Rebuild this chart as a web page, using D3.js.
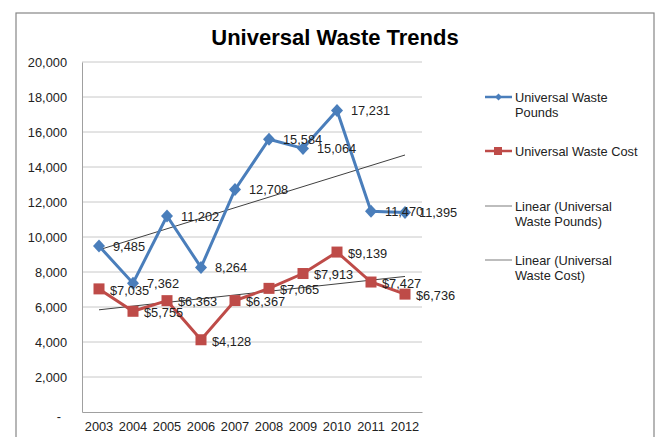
<!DOCTYPE html>
<html><head><meta charset="utf-8">
<script src="https://cdn.jsdelivr.net/npm/d3@7"></script>
<style>
html,body{margin:0;padding:0;background:#fff;}
svg text{font-family:"Liberation Sans",Arial,sans-serif;}
</style></head>
<body><svg id="c" width="657" height="437"></svg>
<script>
const years = ["2003","2004","2005","2006","2007","2008","2009","2010","2011","2012"];
const pounds = [9485,7362,11202,8264,12708,15584,15064,17231,11470,11395];
const cost = [7035,5755,6363,4128,6367,7065,7913,9139,7427,6736];
const yTicks = [0,2000,4000,6000,8000,10000,12000,14000,16000,18000,20000];
const legendItems = ["Universal Waste|Pounds","Universal Waste Cost","Linear (Universal|Waste Pounds)","Linear (Universal|Waste Cost)"];
const title = "Universal Waste Trends";

const svg = d3.select("#c");
const blue = "#4A7EBB", red = "#BE4B48", trendC = "#404040";
const L = 82, R = 422, T = 62, B = 412;
const FS = 12.8;

svg.append("rect").attr("x",16).attr("y",13).attr("width",638).attr("height",440)
  .attr("fill","#fff").attr("stroke","#868686").attr("stroke-width",1.2);

svg.append("text").attr("x",335).attr("y",45).attr("text-anchor","middle")
  .attr("font-size",22).attr("font-weight","bold").attr("fill","#000").text(title);

const x = d3.scaleBand().domain(years).range([L,R]);
const y = d3.scaleLinear().domain([0,20000]).range([B,T]);
const cx = d => x(d)+x.bandwidth()/2;

// gridlines
svg.append("g").selectAll("line").data(yTicks.filter(v=>v>0)).join("line")
  .attr("x1",L).attr("x2",R).attr("y1",d=>y(d)).attr("y2",d=>y(d))
  .attr("stroke","#C8C8C8").attr("stroke-width",1);

// y axis
const ya = svg.append("g").attr("transform",`translate(${L},0)`)
  .call(d3.axisLeft(y).tickValues(yTicks).tickSize(0).tickPadding(15)
    .tickFormat(d => d===0 ? "-" : d3.format(",")(d)));
ya.select(".domain").attr("stroke","#A0A0A0");
ya.selectAll("text").attr("font-size",FS).attr("fill","#222")
  .attr("font-family","Liberation Sans, Arial, sans-serif");
ya.selectAll(".tick").filter(d=>d===0).select("text").attr("dx",-6).attr("dy","0.7em");

// x axis
const xa = svg.append("g").attr("transform",`translate(0,${B})`)
  .call(d3.axisBottom(x).tickSize(0).tickPadding(10));
xa.select(".domain").attr("stroke","#A0A0A0");
xa.selectAll("text").attr("font-size",FS).attr("fill","#222")
  .attr("font-family","Liberation Sans, Arial, sans-serif");

// trend lines (least squares)
function trend(vals){
  const n = vals.length, xs = vals.map((_,i)=>i);
  const mx = d3.mean(xs), my = d3.mean(vals);
  const s = d3.sum(xs.map((xi,i)=>(xi-mx)*(vals[i]-my)))/d3.sum(xs.map(xi=>(xi-mx)**2));
  return [[0,my-s*mx],[n-1,my+s*(n-1-mx)]];
}
[pounds,cost].forEach(v=>{
  const t = trend(v);
  svg.append("line").attr("x1",cx(years[t[0][0]])).attr("y1",y(t[0][1]))
    .attr("x2",cx(years[t[1][0]])).attr("y2",y(t[1][1]))
    .attr("stroke",trendC).attr("stroke-width",1);
});

const line = d3.line().x((d,i)=>cx(years[i])).y(d=>y(d));
svg.append("path").datum(pounds).attr("d",line).attr("fill","none").attr("stroke",blue).attr("stroke-width",3);
svg.append("path").datum(cost).attr("d",line).attr("fill","none").attr("stroke",red).attr("stroke-width",3);

// markers
svg.append("g").selectAll("path").data(pounds).join("path")
  .attr("transform",(d,i)=>`translate(${cx(years[i])},${y(d)})`)
  .attr("d","M0,-6.5L6,0L0,6.5L-6,0Z").attr("fill",blue);
svg.append("g").selectAll("rect").data(cost).join("rect")
  .attr("x",(d,i)=>cx(years[i])-5.5).attr("y",d=>y(d)-5.5)
  .attr("width",11).attr("height",11).attr("fill",red);

// labels
svg.append("g").selectAll("text").data(pounds).join("text")
  .attr("x",(d,i)=>cx(years[i])+14).attr("y",d=>y(d)).attr("dy","0.36em")
  .attr("font-size",FS).attr("fill","#222").text(d=>d3.format(",")(d));
svg.append("g").selectAll("text").data(cost).join("text")
  .attr("x",(d,i)=>cx(years[i])+11).attr("y",d=>y(d)).attr("dy","0.45em")
  .attr("font-size",FS).attr("fill","#222").text(d=>"$"+d3.format(",")(d));

// legend
const lg = svg.append("g");
const ly = [97,151,206,260];
legendItems.forEach((txt,i)=>{
  const g = lg.append("g").attr("transform",`translate(0,${ly[i]})`);
  const col = i===0?blue:(i===1?red:"#999");
  g.append("line").attr("x1",485).attr("x2",512).attr("y1",0).attr("y2",0)
    .attr("stroke",col).attr("stroke-width",i<2?2.5:1.3);
  if(i===0) g.append("path").attr("d","M498.5,-3.5L502,0L498.5,3.5L495,0Z").attr("fill",blue);
  if(i===1) g.append("rect").attr("x",494).attr("y",-4).attr("width",8).attr("height",8).attr("fill",red);
  txt.split("|").forEach((t,j)=>{
    g.append("text").attr("x",515).attr("y",j*15).attr("dy","0.36em")
      .attr("font-size",FS).attr("fill","#222").text(t);
  });
});
</script></body></html>
